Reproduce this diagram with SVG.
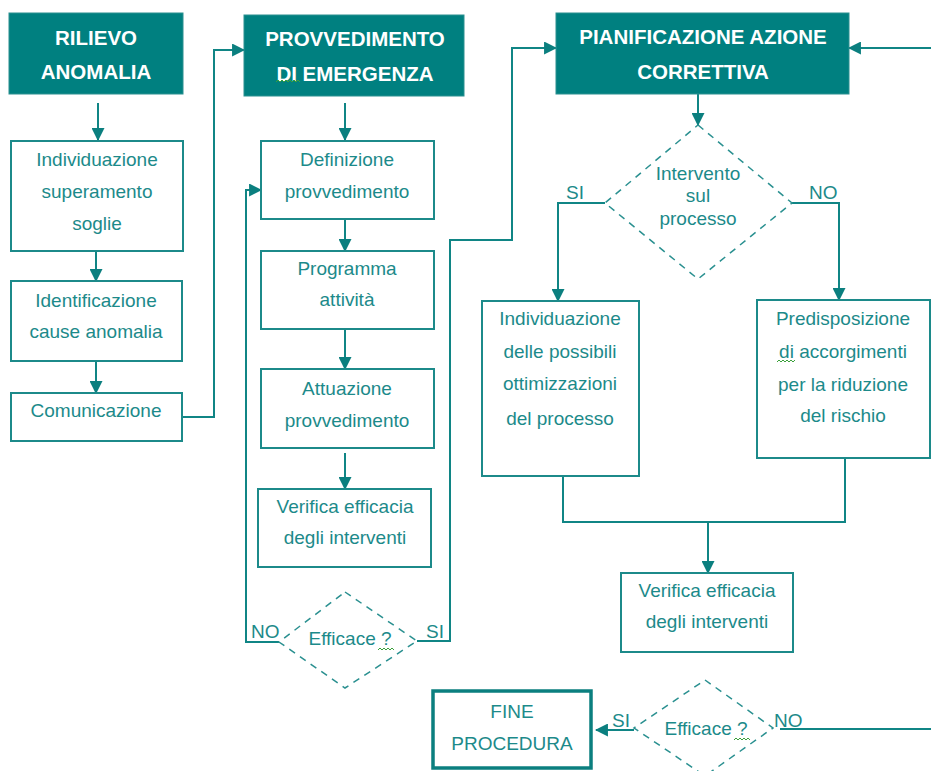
<svg xmlns="http://www.w3.org/2000/svg" width="931" height="771" viewBox="0 0 931 771">
<style>
.hdr{fill:#008080;stroke:#2a9090;stroke-width:1}
.hdrt{font-family:"Liberation Sans",Arial,sans-serif;font-weight:bold;font-size:20.5px;fill:#ffffff;text-anchor:middle}
.box{fill:none;stroke:#1c8a8a;stroke-width:2}
.txt{font-family:"Liberation Sans",Arial,sans-serif;font-size:19px;fill:#1c8a8a;text-anchor:middle}
.lbl{font-family:"Liberation Sans",Arial,sans-serif;font-size:19px;fill:#1c8a8a}
.dia{fill:none;stroke:#2a9090;stroke-width:1.5;stroke-dasharray:7 6}
.con{fill:none;stroke:#108585;stroke-width:2}
.arr{marker-end:url(#ah)}
.wavy{fill:none;stroke:#3aa03a;stroke-width:1}
</style>
<defs>
<marker id="ah" viewBox="0 0 12 12" refX="11" refY="6" markerWidth="13" markerHeight="13" markerUnits="userSpaceOnUse" orient="auto">
<path d="M0,0 L12,6 L0,12 z" fill="#0b7f7f"/>
</marker>
</defs>
<rect width="931" height="771" fill="#ffffff"/>

<g id="connectors">
<path class="con arr" d="M98,103 V140"/>
<path class="con arr" d="M96,251 V281"/>
<path class="con arr" d="M96,361 V393"/>
<path class="con arr" d="M182,417 H214 V50 H244"/>
<path class="con arr" d="M345,103 V140"/>
<path class="con arr" d="M345,219 V251"/>
<path class="con arr" d="M345,329 V369"/>
<path class="con arr" d="M345,453 V489"/>
<path class="con arr" d="M279,642 H246 V190 H261"/>
<path class="con arr" d="M417,641 H450 V240 H512 V48 H556"/>
<path class="con arr" d="M698,94 V125"/>
<path class="con arr" d="M605,203 H558 V301"/>
<path class="con arr" d="M792,203 H839 V300"/>
<path class="con" d="M563,476 V522 H845 V458"/>
<path class="con arr" d="M708,522 V573"/>
<path class="con arr" d="M634,730 H596"/>
<path class="con arr" d="M780,729 H945 V48 H849"/>
</g>

<g id="rilievo">
<rect class="hdr" x="9" y="13" width="174" height="81"/>
<text class="hdrt" x="96" y="45">RILIEVO</text>
<text class="hdrt" x="96" y="79">ANOMALIA</text>
</g>
<g id="provvedimento">
<rect class="hdr" x="244" y="15" width="220" height="81"/>
<text class="hdrt" x="355" y="46">PROVVEDIMENTO</text>
<text class="hdrt" x="355" y="81">DI EMERGENZA</text>
</g>
<g id="pianificazione">
<rect class="hdr" x="556" y="13" width="293" height="81"/>
<text class="hdrt" x="703" y="44">PIANIFICAZIONE AZIONE</text>
<text class="hdrt" x="703" y="79">CORRETTIVA</text>
</g>

<g id="individuazione-soglie">
<rect class="box" x="11" y="141" width="172" height="110"/>
<text class="txt" x="97" y="166">Individuazione</text>
<text class="txt" x="97" y="198">superamento</text>
<text class="txt" x="97" y="230">soglie</text>
</g>
<g id="identificazione">
<rect class="box" x="11" y="281" width="171" height="80"/>
<text class="txt" x="96" y="307">Identificazione</text>
<text class="txt" x="96" y="338">cause anomalia</text>
</g>
<g id="comunicazione">
<rect class="box" x="11" y="393" width="171" height="48"/>
<text class="txt" x="96" y="417">Comunicazione</text>
</g>

<g id="definizione">
<rect class="box" x="261" y="141" width="173" height="78"/>
<text class="txt" x="347" y="166">Definizione</text>
<text class="txt" x="347" y="198">provvedimento</text>
</g>
<g id="programma">
<rect class="box" x="261" y="251" width="173" height="78"/>
<text class="txt" x="347" y="275">Programma</text>
<text class="txt" x="347" y="306">attività</text>
</g>
<g id="attuazione">
<rect class="box" x="261" y="369" width="173" height="79"/>
<text class="txt" x="347" y="395">Attuazione</text>
<text class="txt" x="347" y="427">provvedimento</text>
</g>
<g id="verifica1">
<rect class="box" x="258" y="489" width="173" height="78"/>
<text class="txt" x="345" y="513">Verifica efficacia</text>
<text class="txt" x="345" y="544">degli interventi</text>
</g>
<g id="efficace1">
<path class="dia" d="M345,592 L417,641 L345,688 L279,642 Z"/>
<text class="txt" x="350" y="645">Efficace ?</text>
<text class="lbl" x="251" y="638">NO</text>
<text class="lbl" x="426" y="638">SI</text>
</g>

<g id="intervento">
<path class="dia" d="M698,125 L792,203 L698,279 L605,203 Z"/>
<text class="txt" x="698" y="180">Intervento</text>
<text class="txt" x="698" y="202">sul</text>
<text class="txt" x="698" y="225">processo</text>
<text class="lbl" x="566" y="199">SI</text>
<text class="lbl" x="809" y="199">NO</text>
</g>
<g id="ottimizzazioni">
<rect class="box" x="482" y="301" width="157" height="175"/>
<text class="txt" x="560" y="325">Individuazione</text>
<text class="txt" x="560" y="358">delle possibili</text>
<text class="txt" x="560" y="390">ottimizzazioni</text>
<text class="txt" x="560" y="425">del processo</text>
</g>
<g id="predisposizione">
<rect class="box" x="757" y="300" width="173" height="158"/>
<text class="txt" x="843" y="325">Predisposizione</text>
<text class="txt" x="843" y="358">di accorgimenti</text>
<text class="txt" x="843" y="391">per la riduzione</text>
<text class="txt" x="843" y="422">del rischio</text>
</g>
<g id="verifica2">
<rect class="box" x="621" y="573" width="172" height="79"/>
<text class="txt" x="707" y="597">Verifica efficacia</text>
<text class="txt" x="707" y="628">degli interventi</text>
</g>
<g id="efficace2">
<path class="dia" d="M705,680 L773,728 L705,776 L634,728 Z"/>
<text class="txt" x="706" y="735">Efficace ?</text>
<text class="lbl" x="612" y="727">SI</text>
<text class="lbl" x="774" y="727">NO</text>
</g>
<g id="fine">
<rect x="433" y="691" width="158" height="77" fill="none" stroke="#0b7f7f" stroke-width="3.5"/>
<text class="txt" x="512" y="718">FINE</text>
<text class="txt" x="512" y="750">PROCEDURA</text>
</g>

<g id="spellcheck">
<path class="wavy" d="M276,82 l2,-2 l2,2 l2,-2 l2,2 l2,-2 l2,2 l2,-2 l2,2 l2,-2 l2,2 l2,-2 l2,2"/>
<path class="wavy" d="M378,650 l2,-2 l2,2 l2,-2 l2,2 l2,-2 l2,2 l2,-2 l2,2"/>
<path class="wavy" d="M777,362 l2,-2 l2,2 l2,-2 l2,2 l2,-2 l2,2 l2,-2 l2,2 l2,-2"/>
<path class="wavy" d="M734,740 l2,-2 l2,2 l2,-2 l2,2 l2,-2 l2,2 l2,-2 l2,2"/>
</g>
</svg>
